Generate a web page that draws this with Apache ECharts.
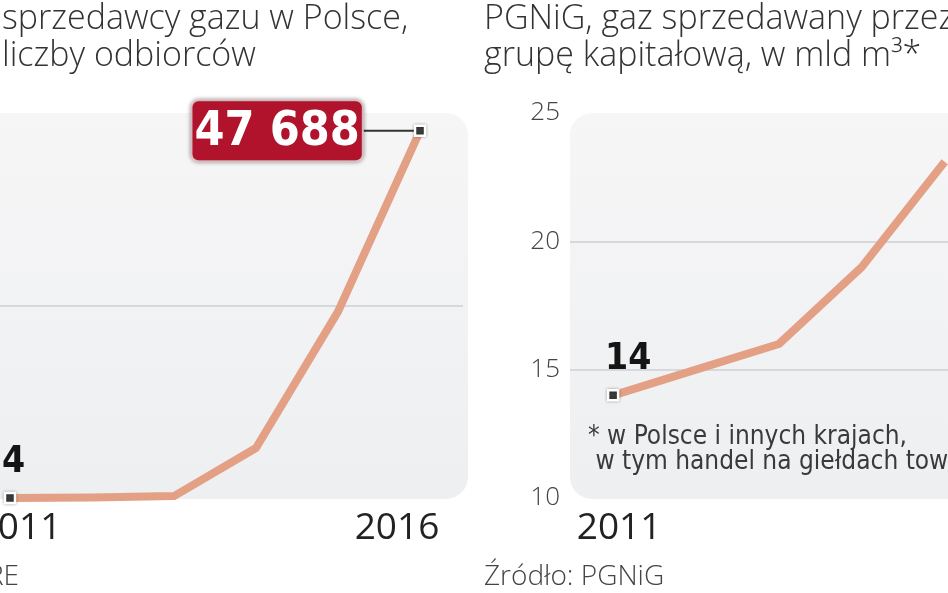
<!DOCTYPE html>
<html><head><meta charset="utf-8">
<script src="https://cdn.jsdelivr.net/npm/echarts@6/dist/echarts.min.js"></script>
<style>html,body{margin:0;padding:0;background:#fff}#c{width:948px;height:593px}</style>
</head><body><div id="c"></div>
<script>
// ---- data ----
const yearsLeft = [2011, 2012, 2013, 2014, 2015, 2016];
const customersLeft = [4, 60, 250, 6500, 24200, 47688];
const yearsRight = [2011, 2012, 2013, 2014, 2015];
const gasRight = [14, 15, 16, 19, 23.1];
const leftXLabels = [2011, 2016];
const rightXLabels = [2011];
const leftYTicks = [0, 25000, 50000];
const rightYTicks = [10, 15, 20, 25];
const titleLeft = 'sprzedawcy gazu w Polsce,\nliczby odbiorców';
const titleRight = 'PGNiG, gaz sprzedawany przez\ngrupę kapitałową, w mld m³*';
const footnote = '* w Polsce i innych krajach,\n w tym handel na giełdach towarowych';
const sourceLeft = 'Źródło: URE';
const sourceRight = 'Źródło: PGNiG';

const LIGHT = "'Open Sans', 'Noto Sans', sans-serif";
const NARROW = "'DejaVu Sans Condensed', 'Roboto', sans-serif";
const LINE = '#e3a085';

function fmt(v) { return String(v).replace(/\B(?=(\d{3})+(?!\d))/g, ' '); }

const endItem = {
  symbol: 'rect', symbolSize: 10,
  itemStyle: { color: '#3b3b3b', borderColor: '#ffffff', borderWidth: 2.5, shadowBlur: 3, shadowColor: 'rgba(0,0,0,0.35)' }
};
const smallLabel = {
  show: true, position: 'top', align: 'left', offset: [-8, -6],
  fontFamily: NARROW, fontWeight: 'bold', fontSize: 37, color: '#141414',
  formatter: p => fmt(p.value[1])
};
const bigLabel = {
  show: true, position: 'left', distance: 0,
  formatter: p => '{box|' + fmt(p.value[1]) + '}{ln|}',
  rich: {
    box: { fontFamily: NARROW, fontWeight: 'bold', fontSize: 48, lineHeight: 46, color: '#ffffff',
      backgroundColor: '#b0132b', borderColor: '#f3d2d6', borderWidth: 2, borderRadius: 6,
      padding: [7, 2, 4, 2], shadowBlur: 4, shadowColor: 'rgba(0,0,0,0.35)' },
    ln: { width: 52, height: 2, backgroundColor: '#333333' }
  }
};

function buildData(xs, ys, labels) {
  return xs.map((x, i) => {
    const item = { value: [x, ys[i]] };
    if (labels[i]) Object.assign(item, endItem, { label: labels[i] });
    else item.symbol = 'none';
    return item;
  });
}

const leftData = buildData(yearsLeft, customersLeft, [smallLabel, null, null, null, null, bigLabel]);
const rightData = buildData(yearsRight, gasRight, [smallLabel, null, null, null, null]);

const xLabelStyle = { fontFamily: LIGHT, fontSize: 37, lineHeight: 38, color: '#222' };
function xLabel(vals, key, rich) {
  return Object.assign({
    customValues: vals, margin: 11,
    formatter: v => '{' + key(v) + '|' + v + '}', rich: rich
  }, xLabelStyle);
}
const panelFill = { type: 'linear', x: 0, y: 0, x2: 0, y2: 1,
  colorStops: [{ offset: 0, color: '#f6f6f7' }, { offset: 1, color: '#eeeff1' }] };
const titleStyle = { fontFamily: LIGHT, fontWeight: 300, fontSize: 34, lineHeight: 37, color: '#333' };

const option = {
  animation: false,
  backgroundColor: '#ffffff',
  title: [
    { text: titleLeft, left: 2, top: 1, padding: 0, textStyle: titleStyle },
    { text: titleRight, left: 484, top: 1, padding: 0, textStyle: titleStyle }
  ],
  graphic: [
    { type: 'rect', z: -10, silent: true, shape: { x: -40, y: 113, width: 508, height: 386, r: 22 }, style: { fill: panelFill } },
    { type: 'rect', z: -10, silent: true, shape: { x: 570, y: 113, width: 430, height: 386, r: 22 }, style: { fill: panelFill } },
    { type: 'text', x: 588, y: 425, z: 5, silent: true,
      style: { text: footnote, fontFamily: NARROW, fontSize: 26, lineHeight: 25, fill: '#3a3a3a' } },
    { type: 'text', x: 19, y: 563, z: 5, silent: true,
      style: { text: sourceLeft, align: 'right', fontFamily: LIGHT, fontWeight: 300, fontSize: 28, fill: '#444' } },
    { type: 'text', x: 484, y: 563, z: 5, silent: true,
      style: { text: sourceRight, fontFamily: LIGHT, fontWeight: 300, fontSize: 28, fill: '#444' } }
  ],
  grid: [
    { left: 0, right: 485, top: 113, bottom: 95, outerBoundsMode: 'none', containLabel: false },
    { left: 570, right: 0, top: 113, bottom: 95, outerBoundsMode: 'none', containLabel: false }
  ],
  xAxis: [
    { type: 'value', gridIndex: 0, min: 2010.878, max: 2016.524,
      axisLine: { show: false }, axisTick: { show: false }, splitLine: { show: false },
      axisLabel: xLabel(leftXLabels, v => v === 2011 ? 'a' : 'b', {
        a: Object.assign({ padding: [0, 0, 0, 18] }, xLabelStyle),
        b: Object.assign({ padding: [0, 46, 0, 0] }, xLabelStyle) }) },
    { type: 'value', gridIndex: 1, min: 2010.48, max: 2015.04,
      axisLine: { show: false }, axisTick: { show: false }, splitLine: { show: false },
      axisLabel: xLabel(rightXLabels, () => 'a', {
        a: Object.assign({ padding: [0, 0, 0, 12] }, xLabelStyle) }) }
  ],
  yAxis: [
    { type: 'value', gridIndex: 0, min: leftYTicks[0], max: leftYTicks[leftYTicks.length - 1],
      interval: leftYTicks[1] - leftYTicks[0],
      axisLine: { show: false }, axisTick: { show: false }, axisLabel: { show: false },
      splitLine: { lineStyle: { color: ['transparent', '#d6d8db', 'transparent'], width: 2 } } },
    { type: 'value', gridIndex: 1, min: rightYTicks[0], max: rightYTicks[rightYTicks.length - 1],
      interval: rightYTicks[1] - rightYTicks[0],
      axisLine: { show: false }, axisTick: { show: false },
      axisLabel: { margin: 10, fontFamily: LIGHT, fontWeight: 300, fontSize: 26, color: '#444' },
      splitLine: { lineStyle: { color: ['transparent', '#d6d8db', '#d6d8db', 'transparent'], width: 2 } } }
  ],
  series: [
    { type: 'line', xAxisIndex: 0, yAxisIndex: 0, data: leftData, color: LINE, z: 3,
      symbol: 'rect', lineStyle: { color: LINE, width: 8, join: 'round' } },
    { type: 'line', xAxisIndex: 1, yAxisIndex: 1, data: rightData, color: LINE, z: 3,
      symbol: 'rect', lineStyle: { color: LINE, width: 8, join: 'round' } }
  ]
};
const chart = echarts.init(document.getElementById('c'));
chart.setOption(option);
</script></body></html>
